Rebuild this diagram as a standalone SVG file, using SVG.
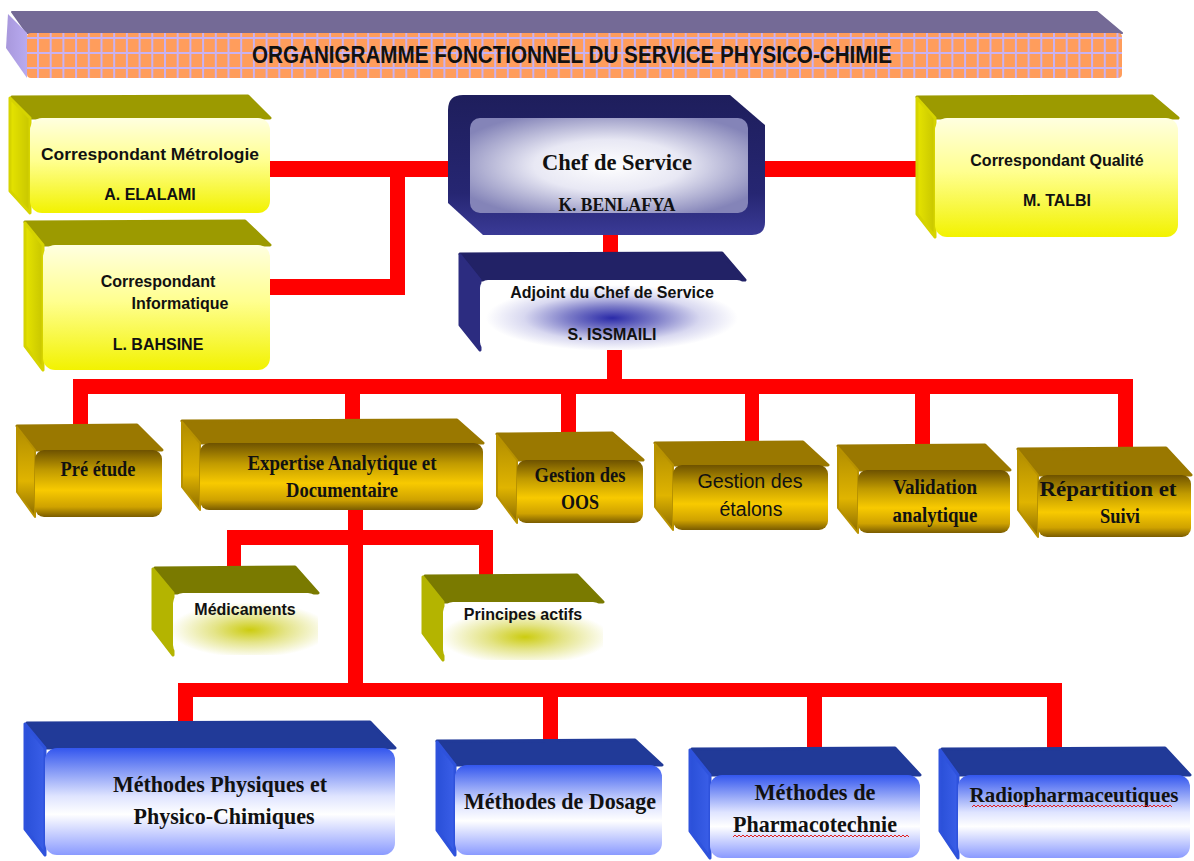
<svg xmlns="http://www.w3.org/2000/svg" width="1194" height="861" viewBox="0 0 1194 861">
<defs>
  <pattern id="grid" patternUnits="userSpaceOnUse" x="37" y="37" width="12.7" height="15">
    <rect width="12.7" height="15" fill="#ff9d5c"/>
    <rect width="2" height="15" fill="#c8b2f2"/>
    <rect width="12.7" height="2" fill="#c8b2f2"/>
  </pattern>
  <linearGradient id="yFront" x1="0" y1="0" x2="0" y2="1">
    <stop offset="0" stop-color="#ffffe0"/>
    <stop offset="0.45" stop-color="#ffff90"/>
    <stop offset="1" stop-color="#f2f200"/>
  </linearGradient>
  <linearGradient id="yLeft" x1="0" y1="0" x2="1" y2="0">
    <stop offset="0" stop-color="#e6e400"/>
    <stop offset="1" stop-color="#c8c600"/>
  </linearGradient>
  <radialGradient id="chefInner" cx="0.5" cy="0.5" r="0.6">
    <stop offset="0" stop-color="#ffffff"/>
    <stop offset="0.45" stop-color="#e8e8f4"/>
    <stop offset="1" stop-color="#8484b8"/>
  </radialGradient>
  <linearGradient id="chefFrame" x1="0" y1="0" x2="0" y2="1">
    <stop offset="0" stop-color="#1e1e5c"/>
    <stop offset="0.7" stop-color="#262672"/>
    <stop offset="1" stop-color="#3a3a96"/>
  </linearGradient>
  <radialGradient id="adjFront" gradientUnits="userSpaceOnUse" cx="612" cy="318" r="60" gradientTransform="translate(612 318) scale(2.1 0.55) translate(-612 -318)">
    <stop offset="0" stop-color="#2a2aa8"/>
    <stop offset="0.35" stop-color="#7c7cc8"/>
    <stop offset="0.7" stop-color="#d8d8f0"/>
    <stop offset="1" stop-color="#ffffff"/>
  </radialGradient>
  <linearGradient id="gFront" x1="0" y1="0" x2="0" y2="1">
    <stop offset="0" stop-color="#6e5200"/>
    <stop offset="0.3" stop-color="#c09a00"/>
    <stop offset="0.6" stop-color="#f8ca00"/>
    <stop offset="0.85" stop-color="#cfa200"/>
    <stop offset="1" stop-color="#7a5c00"/>
  </linearGradient>
  <linearGradient id="gLeft" x1="0" y1="0" x2="0" y2="1">
    <stop offset="0" stop-color="#b08c00"/>
    <stop offset="0.6" stop-color="#e0b400"/>
    <stop offset="1" stop-color="#8a6a00"/>
  </linearGradient>
  <radialGradient id="oFrontA" gradientUnits="userSpaceOnUse" cx="250" cy="630" r="50" gradientTransform="translate(250 630) scale(1.6 0.55) translate(-250 -630)">
    <stop offset="0" stop-color="#cccc10"/>
    <stop offset="0.45" stop-color="#e4e488"/>
    <stop offset="1" stop-color="#ffffff"/>
  </radialGradient>
  <radialGradient id="oFrontB" gradientUnits="userSpaceOnUse" cx="525" cy="637" r="50" gradientTransform="translate(525 637) scale(1.7 0.55) translate(-525 -637)">
    <stop offset="0" stop-color="#cccc10"/>
    <stop offset="0.45" stop-color="#e4e488"/>
    <stop offset="1" stop-color="#ffffff"/>
  </radialGradient>
  <linearGradient id="bFront" x1="0" y1="0" x2="0" y2="1">
    <stop offset="0" stop-color="#3356ee"/>
    <stop offset="0.45" stop-color="#dfe4ff"/>
    <stop offset="0.62" stop-color="#ffffff"/>
    <stop offset="1" stop-color="#8a9aff"/>
  </linearGradient>
  <linearGradient id="bLeft" x1="0" y1="0" x2="1" y2="0">
    <stop offset="0" stop-color="#2a50d8"/>
    <stop offset="1" stop-color="#3a5ee8"/>
  </linearGradient>
  <linearGradient id="tLeft" x1="0" y1="0" x2="1" y2="0">
    <stop offset="0" stop-color="#a898dc"/>
    <stop offset="1" stop-color="#b8aaf0"/>
  </linearGradient>
</defs>
<style>
  .red { fill: #ff0000; }
  .yTop { fill: #9c9a00; stroke: #9c9a00; stroke-width: 3; stroke-linejoin: round; }
  .yLeft { fill: url(#yLeft); stroke: #d6d400; stroke-width: 3; stroke-linejoin: round; }
  .yFront { fill: url(#yFront); }
  .gTop { fill: #9a7800; stroke: #9a7800; stroke-width: 3; stroke-linejoin: round; }
  .gLeft { fill: url(#gLeft); stroke: #b89200; stroke-width: 2; stroke-linejoin: round; }
  .gFront { fill: url(#gFront); }
  .oTop { fill: #7a7a00; stroke: #7a7a00; stroke-width: 3; stroke-linejoin: round; }
  .oLeft { fill: #b4b400; stroke: #b4b400; stroke-width: 3; stroke-linejoin: round; }
  .bTop { fill: #213a98; stroke: #213a98; stroke-width: 3; stroke-linejoin: round; }
  .bLeft { fill: url(#bLeft); stroke: #2e52dc; stroke-width: 3; stroke-linejoin: round; }
  .bFront { fill: url(#bFront); }
  .nTop { fill: #222266; stroke: #222266; stroke-width: 3; stroke-linejoin: round; }
  .nLeft { fill: #2c2c80; stroke: #2c2c80; stroke-width: 3; stroke-linejoin: round; }
  .sans { font-family: "Liberation Sans", Arial, sans-serif; font-weight: bold; fill: #111111; text-anchor: middle; }
  .serif { font-family: "Liberation Serif", "Times New Roman", serif; font-weight: bold; fill: #111111; text-anchor: middle; }
  .wave { fill: none; stroke: #e02020; stroke-width: 1; }
</style>

<!-- Title banner -->
<g id="title">
  <polygon points="27,33 12,12 1097,12 1122,33" fill="#746a96" stroke="#746a96" stroke-width="2" stroke-linejoin="round"/>
  <polygon points="27,33 8,14 6,48 27,78" fill="url(#tLeft)"/>
  <rect x="27" y="33" width="1095" height="45" rx="4" fill="url(#grid)"/>
  <text x="572" y="63" class="sans" font-size="23" textLength="640" lengthAdjust="spacingAndGlyphs" fill="#1a1a1a">ORGANIGRAMME FONCTIONNEL DU SERVICE  PHYSICO-CHIMIE</text>
</g>

<!-- Connectors -->
<g id="connectors">
  <rect class="red" x="268" y="161" width="184" height="16"/>
  <rect class="red" x="390" y="170" width="15" height="125"/>
  <rect class="red" x="270" y="279" width="135" height="16"/>
  <rect class="red" x="752" y="161" width="183" height="16"/>
  <rect class="red" x="603" y="233" width="15" height="23"/>
  <rect class="red" x="607" y="349" width="15" height="35"/>
  <rect class="red" x="73" y="379" width="1060" height="15"/>
  <rect class="red" x="73" y="390" width="15" height="37"/>
  <rect class="red" x="345" y="390" width="15" height="32"/>
  <rect class="red" x="561" y="390" width="15" height="45"/>
  <rect class="red" x="745" y="390" width="14" height="54"/>
  <rect class="red" x="915" y="390" width="15" height="57"/>
  <rect class="red" x="1118" y="390" width="15" height="60"/>
  <rect class="red" x="348" y="508" width="15" height="185"/>
  <rect class="red" x="227" y="530" width="266" height="15"/>
  <rect class="red" x="227" y="540" width="14" height="33"/>
  <rect class="red" x="479" y="540" width="14" height="36"/>
  <rect class="red" x="178" y="683" width="884" height="14"/>
  <rect class="red" x="178" y="690" width="15" height="34"/>
  <rect class="red" x="543" y="690" width="15" height="52"/>
  <rect class="red" x="807" y="690" width="15" height="60"/>
  <rect class="red" x="1047" y="690" width="15" height="60"/>
</g>

<!-- Correspondant Métrologie -->
<g id="metrologie">
  <polygon class="yTop" points="30,118 12,97 248,96 270,118"/>
  <polygon class="yLeft" points="30,118 10,98 10,191 30,213"/>
  <rect class="yFront" x="30" y="118" width="240" height="95" rx="12"/>
  <text class="sans" x="150" y="160" font-size="16" textLength="218" lengthAdjust="spacingAndGlyphs">Correspondant Métrologie</text>
  <text class="sans" x="150" y="200" font-size="16">A. ELALAMI</text>
</g>

<!-- Correspondant Informatique -->
<g id="informatique">
  <polygon class="yTop" points="43,245 25,222 245,221 270,245"/>
  <polygon class="yLeft" points="43,245 25,223 25,346 43,370"/>
  <rect class="yFront" x="43" y="245" width="227" height="125" rx="12"/>
  <text class="sans" x="158" y="287" font-size="16">Correspondant</text>
  <text class="sans" x="180" y="309" font-size="16">Informatique</text>
  <text class="sans" x="158" y="350" font-size="16">L. BAHSINE</text>
</g>

<!-- Chef de Service -->
<g id="chef">
  <path d="M463,95 L730,95 L765,125 L765,222 Q765,235 752,235 L483,235 L448,203 L448,110 Q448,95 463,95 Z" fill="url(#chefFrame)"/>
  <rect x="470" y="118" width="278" height="95" rx="10" fill="url(#chefInner)"/>
  <text class="serif" x="617" y="170" font-size="24" textLength="150" lengthAdjust="spacingAndGlyphs">Chef de Service</text>
  <text class="serif" x="617" y="211" font-size="18" textLength="117" lengthAdjust="spacingAndGlyphs">K. BENLAFYA</text>
</g>

<!-- Correspondant Qualité -->
<g id="qualite">
  <polygon class="yTop" points="935,118 917,97 1152,96 1178,118"/>
  <polygon class="yLeft" points="935,118 917,98 917,214 935,237"/>
  <rect class="yFront" x="935" y="118" width="243" height="119" rx="12"/>
  <text class="sans" x="1057" y="166" font-size="16">Correspondant Qualité</text>
  <text class="sans" x="1057" y="206" font-size="16">M. TALBI</text>
</g>

<!-- Adjoint -->
<g id="adjoint">
  <polygon class="nTop" points="480,280 460,254 722,253 745,280"/>
  <polygon class="nLeft" points="480,280 460,255 460,325 480,350"/>
  <rect x="480" y="280" width="265" height="70" rx="8" fill="url(#adjFront)"/>
  <text class="sans" x="612" y="298" font-size="16">Adjoint du Chef de Service</text>
  <text class="sans" x="612" y="340" font-size="16">S. ISSMAILI</text>
</g>

<!-- Gold boxes -->
<g id="pre-etude">
  <polygon class="gTop" points="35,450 17,426 137,425 162,450"/>
  <polygon class="gLeft" points="35,450 17,427 17,492 35,517"/>
  <rect class="gFront" x="35" y="450" width="127" height="67" rx="9"/>
  <text class="serif" x="98" y="476" font-size="20" textLength="75" lengthAdjust="spacingAndGlyphs">Pré étude</text>
</g>
<g id="expertise">
  <polygon class="gTop" points="200,443 182,421 457,420 483,443"/>
  <polygon class="gLeft" points="200,443 182,422 182,487 200,510"/>
  <rect class="gFront" x="200" y="443" width="283" height="67" rx="9"/>
  <text class="serif" x="342" y="470" font-size="20" textLength="189" lengthAdjust="spacingAndGlyphs">Expertise Analytique et</text>
  <text class="serif" x="342" y="497" font-size="20" textLength="112" lengthAdjust="spacingAndGlyphs">Documentaire</text>
</g>
<g id="oos">
  <polygon class="gTop" points="517,460 497,434 612,433 643,460"/>
  <polygon class="gLeft" points="517,460 497,435 497,496 517,523"/>
  <rect class="gFront" x="517" y="460" width="126" height="63" rx="9"/>
  <text class="serif" x="580" y="482" font-size="20" textLength="91" lengthAdjust="spacingAndGlyphs">Gestion des</text>
  <text class="serif" x="580" y="509" font-size="20" textLength="38" lengthAdjust="spacingAndGlyphs">OOS</text>
</g>
<g id="etalons">
  <polygon class="gTop" points="673,465 655,443 803,442 828,465"/>
  <polygon class="gLeft" points="673,465 655,444 655,507 673,530"/>
  <rect class="gFront" x="673" y="465" width="155" height="65" rx="9"/>
  <text class="sans" x="750" y="488" font-size="20" textLength="105" lengthAdjust="spacingAndGlyphs" style="font-weight:normal">Gestion des</text>
  <text class="sans" x="751" y="516" font-size="20" textLength="63" lengthAdjust="spacingAndGlyphs" style="font-weight:normal">étalons</text>
</g>
<g id="validation">
  <polygon class="gTop" points="858,470 838,446 985,445 1010,470"/>
  <polygon class="gLeft" points="858,470 838,447 838,508 858,533"/>
  <rect class="gFront" x="858" y="470" width="152" height="63" rx="9"/>
  <text class="serif" x="935" y="494" font-size="20" textLength="84" lengthAdjust="spacingAndGlyphs">Validation</text>
  <text class="serif" x="935" y="522" font-size="20" textLength="85" lengthAdjust="spacingAndGlyphs">analytique</text>
</g>
<g id="repartition">
  <polygon class="gTop" points="1038,475 1018,449 1166,448 1191,475"/>
  <polygon class="gLeft" points="1038,475 1018,450 1018,510 1038,537"/>
  <rect class="gFront" x="1038" y="475" width="153" height="62" rx="9"/>
  <text class="serif" x="1108" y="496" font-size="20" textLength="137" lengthAdjust="spacingAndGlyphs">Répartition et</text>
  <text class="serif" x="1120" y="523" font-size="20" textLength="40" lengthAdjust="spacingAndGlyphs">Suivi</text>
</g>

<!-- Olive boxes -->
<g id="medicaments">
  <polygon class="oTop" points="173,593 155,568 295,567 318,593"/>
  <polygon class="oLeft" points="173,593 153,569 153,629 173,655"/>
  <rect x="173" y="593" width="145" height="62" rx="10" fill="url(#oFrontA)"/>
  <text class="sans" x="245" y="615" font-size="16">Médicaments</text>
</g>
<g id="principes">
  <polygon class="oTop" points="443,602 425,576 577,575 603,602"/>
  <polygon class="oLeft" points="443,602 423,577 423,633 443,660"/>
  <rect x="443" y="602" width="160" height="58" rx="10" fill="url(#oFrontB)"/>
  <text class="sans" x="523" y="620" font-size="16">Principes actifs</text>
</g>

<!-- Blue boxes -->
<g id="physiques">
  <polygon class="bTop" points="45,748 27,723 370,722 395,748"/>
  <polygon class="bLeft" points="45,748 25,724 25,829 45,855"/>
  <rect class="bFront" x="45" y="748" width="350" height="107" rx="12"/>
  <text class="serif" x="220" y="792" font-size="23" textLength="214" lengthAdjust="spacingAndGlyphs">Méthodes Physiques et</text>
  <text class="serif" x="224" y="824" font-size="23" textLength="181" lengthAdjust="spacingAndGlyphs">Physico-Chimiques</text>
</g>
<g id="dosage">
  <polygon class="bTop" points="455,765 437,741 635,740 662,765"/>
  <polygon class="bLeft" points="455,765 437,742 437,830 455,855"/>
  <rect class="bFront" x="455" y="765" width="207" height="90" rx="12"/>
  <text class="serif" x="560" y="809" font-size="23" textLength="192" lengthAdjust="spacingAndGlyphs">Méthodes de Dosage</text>
</g>
<g id="pharmacotechnie">
  <polygon class="bTop" points="710,775 692,749 895,748 920,775"/>
  <polygon class="bLeft" points="710,775 690,750 690,831 710,858"/>
  <rect class="bFront" x="710" y="775" width="210" height="83" rx="12"/>
  <text class="serif" x="815" y="800" font-size="23" textLength="121" lengthAdjust="spacingAndGlyphs">Méthodes de</text>
  <text class="serif" x="815" y="832" font-size="23" textLength="164" lengthAdjust="spacingAndGlyphs">Pharmacotechnie</text>
  <path class="wave" d="M733,837 l2,-2 l2,2 l2,-2 l2,2 l2,-2 l2,2 l2,-2 l2,2 l2,-2 l2,2 l2,-2 l2,2 l2,-2 l2,2 l2,-2 l2,2 l2,-2 l2,2 l2,-2 l2,2 l2,-2 l2,2 l2,-2 l2,2 l2,-2 l2,2 l2,-2 l2,2 l2,-2 l2,2 l2,-2 l2,2 l2,-2 l2,2 l2,-2 l2,2 l2,-2 l2,2 l2,-2 l2,2 l2,-2 l2,2 l2,-2 l2,2 l2,-2 l2,2 l2,-2 l2,2 l2,-2 l2,2 l2,-2 l2,2 l2,-2 l2,2 l2,-2 l2,2 l2,-2 l2,2 l2,-2 l2,2 l2,-2 l2,2 l2,-2 l2,2 l2,-2 l2,2 l2,-2 l2,2 l2,-2 l2,2 l2,-2 l2,2 l2,-2 l2,2 l2,-2 l2,2 l2,-2 l2,2 l2,-2 l2,2 l2,-2 l2,2 l2,-2 l2,2 l2,-2 l2,2 l2,-2 l2,2"/>
</g>
<g id="radiopharmaceutiques">
  <polygon class="bTop" points="958,775 942,749 1165,748 1190,775"/>
  <polygon class="bLeft" points="958,775 940,750 940,831 958,858"/>
  <rect class="bFront" x="958" y="775" width="232" height="83" rx="12"/>
  <text class="serif" x="1074" y="802" font-size="21">Radiopharmaceutiques</text>
  <path class="wave" d="M972,807 l2,-2 l2,2 l2,-2 l2,2 l2,-2 l2,2 l2,-2 l2,2 l2,-2 l2,2 l2,-2 l2,2 l2,-2 l2,2 l2,-2 l2,2 l2,-2 l2,2 l2,-2 l2,2 l2,-2 l2,2 l2,-2 l2,2 l2,-2 l2,2 l2,-2 l2,2 l2,-2 l2,2 l2,-2 l2,2 l2,-2 l2,2 l2,-2 l2,2 l2,-2 l2,2 l2,-2 l2,2 l2,-2 l2,2 l2,-2 l2,2 l2,-2 l2,2 l2,-2 l2,2 l2,-2 l2,2 l2,-2 l2,2 l2,-2 l2,2 l2,-2 l2,2 l2,-2 l2,2 l2,-2 l2,2 l2,-2 l2,2 l2,-2 l2,2 l2,-2 l2,2 l2,-2 l2,2 l2,-2 l2,2 l2,-2 l2,2 l2,-2 l2,2 l2,-2 l2,2 l2,-2 l2,2 l2,-2 l2,2 l2,-2 l2,2 l2,-2 l2,2 l2,-2 l2,2 l2,-2 l2,2 l2,-2 l2,2 l2,-2 l2,2 l2,-2 l2,2 l2,-2 l2,2 l2,-2 l2,2 l2,-2 l2,2"/>
</g>
</svg>
